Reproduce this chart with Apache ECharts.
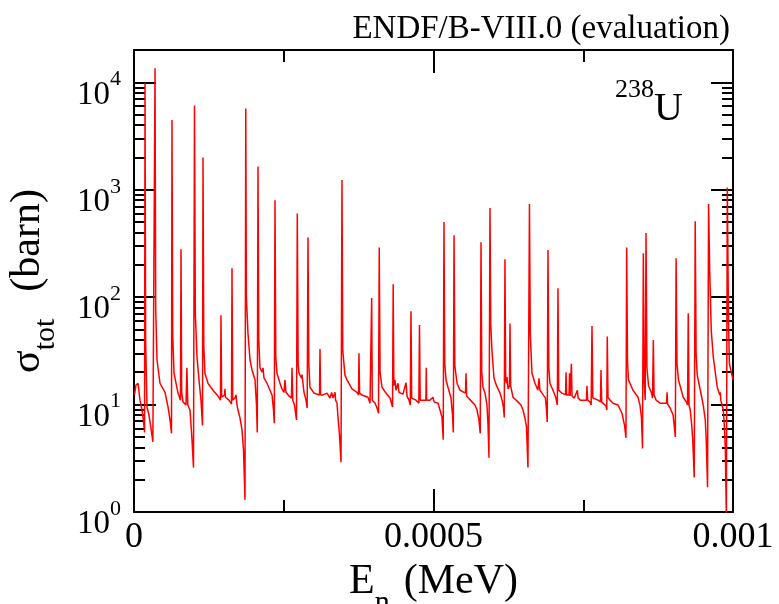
<!DOCTYPE html>
<html>
<head>
<meta charset="utf-8">
<script src="https://cdn.jsdelivr.net/npm/echarts@6/dist/echarts.min.js"></script>
<style>html,body{margin:0;padding:0;background:#fff}#chart{width:779px;height:604px}</style>
</head>
<body>
<div id="chart"></div>
<script>
// Total cross section trace: [neutron energy (eV), sigma (barn)]
const crossSectionTrace = [
[0.8,12.3],[3.3,15.2],[6.7,15.8],[10,11],[13.4,8.9],[16.2,6.7],[17.6,5.5],[18.4,9800],[19.4,40],[21.7,9.5],
[25,8],[28.4,6.0],[31.5,4.5],[33.6,4.4],[35.1,13500],[36.2,80],[38.4,26],[43.4,15.8],[51.8,13],[56.8,9.5],
[60.1,7.2],[62.6,5.4],[63.4,4450],[64.6,45],[66.8,19.6],[73.5,12.8],[77.6,11],[78.5,280],[79.6,13],[81.8,10.6],
[86.8,9.9],[88.3,22],[89.8,9.9],[93.5,8.9],[96.8,4.7],[99.3,2.6],[101,6100],[102.4,70],[105.2,27.6],[108.5,17],
[111.8,11],[114.4,6.4],[115.2,2000],[116.5,35],[118.5,19.6],[123.5,15.8],[131.9,13.6],[140.2,12],[144.4,11],[145.2,68],
[146.3,11.7],[151.1,12.3],[151.9,14],[152.7,11.7],[158.6,11],[162.8,10.1],[163.6,186],[164.8,11],[168.6,11.5],[170.3,12.3],
[172,9.9],[173.6,8.9],[177,7.5],[180.3,5.8],[182.8,3.8],[185.3,1.3],[186.6,5700],[187.6,100],[190.3,46],[193.7,26],
[197,21],[202,17],[204.5,9.9],[205.8,5.5],[207,1650],[208.3,40],[210.3,22],[213.7,20],[215.4,22],[217,17.7],
[222,15.8],[227,13.6],[230.4,12.3],[232.9,8.9],[234.2,6.7],[235.4,800],[236.7,28],[238.7,19.6],[243.7,15.8],[247,14],
[250.4,13],[252,17],[253.7,13],[258.8,12],[262.9,11.5],[263.8,22],[265.1,11],[267.9,9.9],[271.3,7.2],[272.6,600],
[274.0,24],[275.4,19.6],[279.6,17.6],[280.5,19],[283.8,13],[287.1,11],[289.1,9.3],[290.5,360],[291.8,24],[293.8,14.5],
[300.5,12.8],[309.7,12.3],[310.5,33],[311.5,12.3],[315.5,12.3],[322.2,12.8],[327.2,11.5],[330,13],[332.2,11.5],[335.6,13],
[336.5,11],[338.9,10.3],[340.6,7.6],[343.1,5.2],[345.6,2.9],[347.2,1230],[348.5,32],[352.2,18.8],[355.6,17],[363.9,14],
[372.3,13],[374.8,12.3],[375.6,30],[376.6,12.8],[380.6,12.3],[390.6,11.7],[394,10.3],[395.6,9.9],[396.8,98],[397.8,11],
[402.4,10.3],[405.7,9.3],[408.2,8.3],[409.4,290],[410.8,20],[414,14.5],[420.7,12.8],[427.4,11.5],[431.6,9.5],[432.7,132],
[433.8,15],[435.7,17],[437.4,13.6],[440.7,15.8],[442.4,13],[449.1,12.5],[454.1,16],[455.8,12],[459.1,11],[461.2,9.9],
[462.4,74],[463.6,11.5],[470.8,11],[475.5,10.3],[476.6,55],[477.8,11],[487.3,11],[487.9,22],[488.6,11],[494.1,11],
[499.1,11.7],[500.8,10.6],[507.5,10.3],[510.8,8.9],[514.2,7.6],[516.2,4.7],[517.5,500],[518.8,24],[520.9,17],[524.2,14.5],
[529.2,11.5],[531.7,8],[533.1,5.5],[534.3,377],[535.6,23],[539.3,15.8],[544.3,13.6],[553.4,12.8],[554.3,19.6],[555.3,12],
[557.6,11.5],[564.3,10.6],[569.3,9.9],[572.6,8.9],[575.9,7.2],[578,5.4],[579.3,325],[580.6,20],[582.6,14.5],[586,12.8],
[589.3,9.9],[591,6.4],[592.6,3.2],[594.3,675],[595.6,55],[597.6,32],[601,17.6],[605.2,15],[611,12.8],[614.4,11],
[616.9,9.3],[618.1,7.6],[619.3,225],[620.5,17],[621.9,15.8],[622.7,18],[624.4,14],[626.9,15],[627.7,57],[628.8,15],
[631,13],[632.7,11.7],[641,10.6],[646,9.9],[649.4,8.9],[652.7,7.5],[655.2,6.2],[657.7,2.6],[660.2,735],[661.6,45],
[664.4,19.6],[669.4,15.8],[674.4,13.6],[676.1,17.6],[677.7,13.6],[681.1,12.8],[686.9,11.5],[688.6,8.9],[689.9,6.9],[691.1,275],
[692.5,22],[694.4,15.8],[699.5,13.6],[704.5,11.5],[706.7,9.9],[707.8,121],[709,13.6],[714.5,12.8],[720.4,12.3],[721.3,20],
[722.2,12.3],[726.3,12.3],[727.1,19.6],[728.1,12],[730.2,24],[731.3,12],[735.2,11.5],[740.2,13.6],[741.4,11.5],[745.2,11],
[755.4,11],[756.2,15],[757.4,11],[761.2,10.6],[763.2,9.9],[764.6,54],[766,11.5],[774.6,11],[778.8,10.6],[779.6,21],
[780.8,10.6],[784.6,10.1],[788,9.7],[789.3,8.9],[790.1,43],[791.3,11.7],[794.6,11],[799.6,10.3],[808,9.9],[814.7,8.3],
[818.9,6.4],[821.3,4.9],[822.5,290],[823.9,25],[825.5,17],[833,13.6],[841.4,11.7],[844.7,9.9],[847.2,7.5],[848.9,3.9],
[850.3,257],[851.6,17],[853.4,11],[854.8,395],[856.3,22],[859,15],[864,12.8],[865.7,11.5],[867,40],[868.2,12.3],
[871.6,11],[878.3,10.3],[889.1,10.3],[889.9,13],[890.8,10.1],[895,9.3],[900,8],[902.6,5.8],[903.7,5],[905,230],
[906.5,24],[909,17],[916.9,11.7],[921.9,10.6],[924.1,9.9],[925.3,71],[926.6,9.9],[928.6,8.9],[931.1,6.4],[932.8,4.7],
[935.3,2.1],[936.9,510],[938.4,30],[940.3,18.8],[947.8,11.7],[950.3,9.9],[953.7,7.2],[955.3,4.7],[957.5,1.7],[959.2,735],
[961.2,168],[963.7,49],[967,28],[973.7,14.5],[977.9,12.3],[978.8,13],[979.6,11],[982.1,11],[983.8,8.9],[985.5,6.4],
[987.2,3.8],[988.9,0.9],[990.5,1050],[992.5,60],[994,24],[1000,17]
];

const xMajorTicks = [0, 0.0005, 0.001];
const xTickLabels = ['0', '0.0005', '0.001'];
const yDecades = [1, 10, 100, 1000, 10000];
const yMinorMultipliers = [2, 3, 4, 5, 6, 7, 8, 9];
const X_MIN = 0, X_MAX = 0.001;
const Y_MIN = 1, Y_MAX = 20000;

const serif = 'Liberation Serif';
const black = '#000';
const tickLine = { color: black, width: 2 };

const seriesData = crossSectionTrace.map(p => [p[0] * 1e-6, p[1]]);

const majorTickLog = yDecades.map(d => Math.log10(d));
const minorTickLog = [];
yDecades.forEach(d => yMinorMultipliers.forEach(m => {
  const v = d * m;
  if (v < Y_MAX) minorTickLog.push(Math.log10(v));
}));

const xAxisBase = {
  type: 'value', min: X_MIN, max: X_MAX, interval: 0.0005,
  splitLine: { show: false },
  axisLine: { show: true, onZero: false, lineStyle: { color: black, width: 2 } },
  axisTick: { show: true, inside: true, length: 23, lineStyle: tickLine },
  minorTick: { show: true, splitNumber: 2, length: 12, lineStyle: tickLine }
};

const logAxisBase = {
  type: 'log', logBase: 10, min: Y_MIN, max: Y_MAX, offset: 0,
  splitLine: { show: false },
  axisLine: { show: true, onZero: false, lineStyle: { color: black, width: 2 } },
  axisTick: { show: false }
};

function tickAxis(position, values, length) {
  return {
    type: 'value', min: 0, max: Math.log10(Y_MAX), position: position, offset: 0,
    splitLine: { show: false },
    axisLine: { show: false, onZero: false },
    axisLabel: { show: false },
    axisTick: { show: true, inside: true, length: length, customValues: values, lineStyle: tickLine }
  };
}

const chart = echarts.init(document.getElementById('chart'), null, { renderer: 'canvas' });

chart.setOption({
  backgroundColor: '#fff',
  animation: false,
  title: [
    {
      text: 'ENDF/B-VIII.0 (evaluation)', right: 44, top: 8,
      textStyle: { fontFamily: serif, fontSize: 33, fontWeight: 'normal', color: black }
    },
    {
      text: '{s|238}{u|U}', right: 91, top: 72,
      textStyle: {
        fontWeight: 'normal',
        rich: {
          s: { fontFamily: serif, fontSize: 26, fontWeight: 'normal', lineHeight: 28, verticalAlign: 'top', color: black },
          u: { fontFamily: serif, fontSize: 40, fontWeight: 'normal', lineHeight: 44, verticalAlign: 'top', padding: [12, 0, 0, 0], color: black }
        }
      }
    }
  ],
  grid: { left: 134, right: 46, top: 50, bottom: 92, show: false, containLabel: false, outerBoundsMode: 'none' },
  xAxis: [
    Object.assign({}, xAxisBase, {
      position: 'bottom',
      axisLabel: {
        show: true, margin: 8, color: black, fontFamily: serif, fontSize: 36,
        formatter: v => {
          const i = xMajorTicks.findIndex(t => Math.abs(t - v) < 1e-10);
          return i >= 0 ? xTickLabels[i] : '';
        }
      },
      name: '{m|E}{sub|n}{g|}{m|(MeV)}',
      nameLocation: 'middle', nameGap: 41,
      nameTextStyle: {
        rich: {
          m: { fontFamily: serif, fontSize: 42, lineHeight: 46, verticalAlign: 'top', color: black },
          sub: { fontFamily: serif, fontSize: 30, lineHeight: 30, verticalAlign: 'top', padding: [27, 0, 0, 0], color: black },
          g: { width: 14 }
        }
      }
    }),
    Object.assign({}, xAxisBase, { position: 'top', axisLabel: { show: false } })
  ],
  yAxis: [
    Object.assign({}, logAxisBase, {
      position: 'left',
      axisLabel: {
        show: true, margin: 13, padding: [6, 0, 0, 0],
        formatter: v => {
          const e = Math.log10(v);
          const r = Math.round(e);
          if (Math.abs(e - r) > 1e-6) return '';
          return '{b|10}{s|' + r + '}';
        },
        rich: {
          b: { fontFamily: serif, fontSize: 33, lineHeight: 34, verticalAlign: 'top', padding: [10, 0, 0, 0], color: black },
          s: { fontFamily: serif, fontSize: 22, lineHeight: 24, verticalAlign: 'top', color: black }
        }
      },
      name: '{m|σ}{sub|tot}{g|}{m|(barn)}',
      nameLocation: 'middle', nameGap: 81,
      nameTextStyle: {
        rich: {
          m: { fontFamily: serif, fontSize: 42, lineHeight: 46, verticalAlign: 'top', color: black },
          sub: { fontFamily: serif, fontSize: 30, lineHeight: 30, verticalAlign: 'top', padding: [24, 0, 0, 0], color: black },
          g: { width: 27 }
        }
      }
    }),
    Object.assign({}, logAxisBase, { position: 'right', axisLabel: { show: false } }),
    tickAxis('left', majorTickLog, 22),
    tickAxis('right', majorTickLog, 22),
    tickAxis('left', minorTickLog, 11),
    tickAxis('right', minorTickLog, 11)
  ],
  series: [{
    type: 'line',
    xAxisIndex: 0, yAxisIndex: 0,
    data: seriesData,
    showSymbol: false, symbol: 'none',
    sampling: false,
    clip: true,
    lineStyle: { color: '#ff0000', width: 1.5 },
    emphasis: { disabled: true }
  }]
});
</script>
</body>
</html>
